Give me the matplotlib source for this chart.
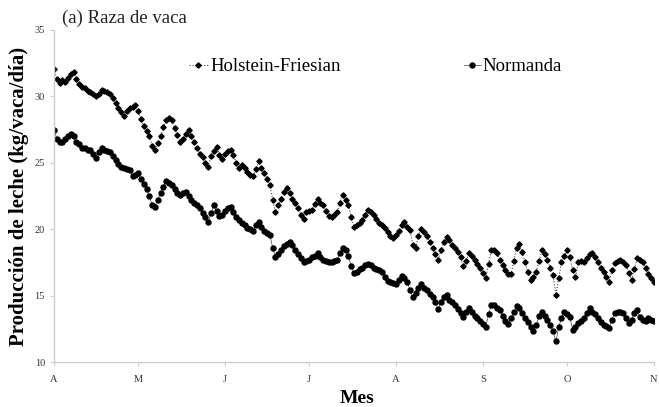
import numpy as np
import matplotlib
matplotlib.use('Agg')
import matplotlib.pyplot as plt

# daily milk yield, 1 April (day 0) to 1 November (day 214)
holstein = [
    32.1, 31.3, 31.0, 31.2, 31.1, 31.4, 31.7, 31.8, 31.3, 30.9,
    30.7, 30.6, 30.4, 30.3, 30.2, 30.0, 30.2, 30.5, 30.4, 30.3,
    30.2, 29.9, 29.5, 29.1, 28.8, 28.5, 28.9, 29.1, 29.2, 29.35,
    28.9, 28.3, 27.8, 27.4, 27.0, 26.3, 26.0, 26.5, 27.0, 27.7,
    28.2, 28.35, 28.2, 27.6, 27.1, 26.6, 26.8, 27.2, 27.5, 27.0,
    26.6, 26.1, 25.7, 25.4, 25.0, 24.7, 25.5, 25.9, 26.2, 25.6,
    25.3, 25.7, 25.9, 26.0, 25.6, 25.0, 24.6, 24.8, 24.6, 24.3,
    24.1, 24.0, 24.5, 25.1, 24.6, 24.2, 23.8, 23.3, 22.2, 21.3,
    21.8, 22.3, 22.8, 23.1, 22.7, 22.3, 22.0, 21.6, 21.1, 20.8,
    21.3, 21.4, 21.45, 21.9, 22.3, 22.0, 21.8, 21.4, 21.0, 20.9,
    21.1, 21.3, 22.0, 22.6, 22.2, 21.8, 20.9, 20.2, 20.3, 20.5,
    20.7, 21.1, 21.45, 21.3, 21.1, 20.8, 20.45, 20.3, 20.1, 19.8,
    19.5, 19.3, 19.6, 19.9, 20.3, 20.55, 20.2, 19.95, 18.8, 18.6,
    19.5, 20.05, 19.8, 19.5, 19.0, 18.6, 18.1, 17.7, 18.4, 19.0,
    19.4, 19.2, 18.8, 18.6, 18.3, 17.9, 17.2, 17.6, 18.2, 18.0,
    17.7, 17.4, 17.1, 16.7, 16.3, 17.4, 18.4, 18.4, 18.2, 17.7,
    17.3, 16.9, 16.6, 16.6, 17.6, 18.6, 18.9, 18.3, 17.5, 16.8,
    16.2, 16.4, 16.8, 17.6, 18.4, 18.1, 17.7, 17.1, 16.55, 15.05,
    16.3, 17.5, 18.0, 18.4, 17.9, 16.9, 16.4, 17.5, 17.6, 17.55,
    17.8, 18.1, 18.2, 17.9, 17.55, 17.1, 16.8, 16.4, 16.05, 16.9,
    17.45, 17.6, 17.7, 17.5, 17.3, 16.7, 16.2, 17.0, 17.8, 17.7,
    17.55, 17.1, 16.6, 16.3, 16.05,
]
normanda = [
    27.5, 26.8, 26.6, 26.6, 26.8, 27.0, 27.2, 27.0, 26.6, 26.4,
    26.1, 26.1, 26.0, 26.0, 25.7, 25.35, 25.8, 26.1, 26.0, 25.9,
    25.85, 25.5, 25.2, 24.9, 24.7, 24.6, 24.5, 24.45, 24.0, 24.1,
    24.2, 23.8, 23.4, 23.0, 22.5, 21.8, 21.7, 22.2, 22.7, 23.2,
    23.6, 23.5, 23.3, 23.0, 22.7, 22.55, 22.7, 22.8, 22.5, 22.2,
    21.95, 21.8, 21.6, 21.2, 20.9, 20.55, 21.2, 21.8, 21.4, 21.0,
    21.1, 21.4, 21.6, 21.7, 21.3, 20.9, 20.7, 20.45, 20.3, 20.1,
    20.0, 19.85, 20.3, 20.55, 20.2, 19.9, 19.7, 19.55, 18.6, 17.9,
    18.1, 18.4, 18.7, 18.9, 19.05, 18.8, 18.4, 18.1, 17.8, 17.55,
    17.6, 17.7, 17.9, 18.0, 18.2, 17.9, 17.7, 17.6, 17.55, 17.55,
    17.6, 17.7, 18.2, 18.55, 18.4, 18.0, 17.2, 16.7, 16.8, 17.0,
    17.1, 17.3, 17.4, 17.3, 17.1, 17.0, 16.9, 16.8, 16.4, 16.1,
    16.0, 15.95, 15.9, 16.2, 16.5, 16.3, 16.05, 15.4, 14.9, 15.2,
    15.6, 15.9, 15.6, 15.4, 15.1, 14.9, 14.5, 14.0, 14.5, 14.9,
    15.05, 14.7, 14.5, 14.3, 14.0, 13.7, 13.4, 13.8, 14.05, 13.8,
    13.5, 13.3, 13.1, 12.85, 12.65, 13.6, 14.3, 14.3, 14.1, 13.9,
    13.5, 13.1, 12.85, 13.3, 13.8, 14.2, 14.1, 13.7, 13.3, 13.0,
    12.6, 12.3, 12.8, 13.5, 13.8, 13.5, 13.15, 12.8, 12.3, 11.55,
    12.6, 13.3, 13.8, 13.6, 13.4, 12.4, 12.6, 12.9, 13.1, 13.3,
    13.7, 14.05, 13.8, 13.6, 13.3, 13.0, 12.8, 12.7, 12.55, 13.2,
    13.7, 13.8, 13.75, 13.7, 13.3, 12.9, 13.2, 13.7, 13.9, 13.4,
    13.2, 13.05, 13.3, 13.2, 13.05,
]
month_starts = [0, 30, 61, 91, 122, 153, 183, 214]
month_labels = ['A', 'M', 'J', 'J', 'A', 'S', 'O', 'N']
y_ticks = [10, 15, 20, 25, 30, 35]

plt.rcParams['font.family'] = ['Liberation Serif', 'DejaVu Serif']

fig = plt.figure(figsize=(6.59, 4.07), dpi=100)
ax = fig.add_axes([54 / 659, 45 / 407, 600 / 659, 332 / 407])

days = np.arange(len(holstein))
h1, = ax.plot(days, holstein, color='#444444', linestyle=':', linewidth=0.8,
              marker='D', markersize=2.7, markerfacecolor='black',
              markeredgecolor='black')
h2, = ax.plot(days, normanda, color='#444444', linestyle='-', linewidth=0.5,
              marker='o', markersize=3.6, markerfacecolor='black',
              markeredgecolor='black')

ax.set_xlim(0, 214)
ax.set_ylim(10, 35)
ax.set_xticks(month_starts)
ax.set_xticklabels(month_labels)
ax.set_yticks(y_ticks)
for side in ['top', 'right']:
    ax.spines[side].set_visible(False)
for side in ['left', 'bottom']:
    ax.spines[side].set_color('#cccccc')
    ax.spines[side].set_linewidth(1.0)
ax.tick_params(axis='both', colors='#cccccc', labelcolor='#333333',
               labelsize=7.5, length=3, width=0.8)
ax.tick_params(axis='x', pad=6)

ax.set_ylabel('Producción de leche (kg/vaca/día)', fontsize=15,
              fontweight='bold')
ax.yaxis.set_label_coords(-25 / 600, 0.5)
ax.set_xlabel('Mes', fontsize=14, fontweight='bold')
ax.xaxis.set_label_coords(0.505, -0.085)

fig.text(62 / 659, 1 - 18 / 407, '(a) Raza de vaca', fontsize=13.5,
         va='center', ha='left', color='#222222')

leg1 = ax.legend([h1], ['Holstein-Friesian'], loc='center left',
                 bbox_to_anchor=(0.225, 0.889), frameon=False, fontsize=13.5,
                 handlelength=1.0, handletextpad=0.12, borderpad=0,
                 borderaxespad=0)
ax.add_artist(leg1)
ax.legend([h2], ['Normanda'], loc='center left',
          bbox_to_anchor=(0.683, 0.889), frameon=False, fontsize=13.5,
          handlelength=0.9, handletextpad=0.12, borderpad=0, borderaxespad=0)

fig.savefig('out.png', dpi=100)
